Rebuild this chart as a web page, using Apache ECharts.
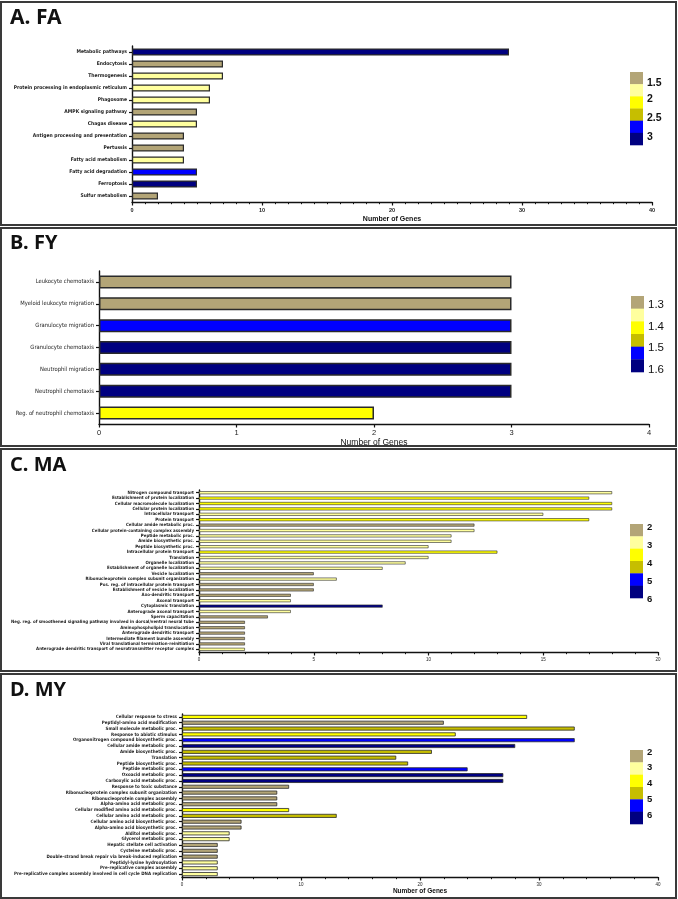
<!DOCTYPE html>
<html><head><meta charset="utf-8">
<script src="https://cdn.jsdelivr.net/npm/echarts@6/dist/echarts.min.js"></script>
<style>html,body{margin:0;padding:0;background:#fff}#c{width:678px;height:899px}</style>
</head><body><div id="c"></div><script>
// colour scale (lowest -> highest)
const palette = ['#B3A577','#FFFF9E','#FFFF00','#C6BE00','#0000FF','#000080'];

// A. FA
const faCategories = ['Metabolic pathways','Endocytosis','Thermogenesis','Protein processing in endoplasmic reticulum','Phagosome','AMPK signaling pathway','Chagas disease','Antigen processing and presentation','Pertussis','Fatty acid metabolism','Fatty acid degradation','Ferroptosis','Sulfur metabolism'];
const faValues = [29,7,7,6,6,5,5,4,4,4,5,5,2];
const faLevels = [5,0,1,1,1,0,1,0,0,1,4,5,0];
const faLegendLabels = ['1.5','2','2.5','3'];

// B. FY
const fyCategories = ['Leukocyte chemotaxis','Myeloid leukocyte migration','Granulocyte migration','Granulocyte chemotaxis','Neutrophil migration','Neutrophil chemotaxis','Reg. of neutrophil chemotaxis'];
const fyValues = [3,3,3,3,3,3,2];
const fyLevels = [0,0,4,5,5,5,2];
const fyLegendLabels = ['1.3','1.4','1.5','1.6'];

// C. MA
const maCategories = ['Nitrogen compound transport','Establishment of protein localization','Cellular macromolecule localization','Cellular protein localization','Intracellular transport','Protein transport','Cellular amide metabolic proc.','Cellular protein-containing complex assembly','Peptide metabolic proc.','Amide biosynthetic proc.','Peptide biosynthetic proc.','Intracellular protein transport','Translation','Organelle localization','Establishment of organelle localization','Vesicle localization','Ribonucleoprotein complex subunit organization','Pos. reg. of intracellular protein transport','Establishment of vesicle localization','Axo-dendritic transport','Axonal transport','Cytoplasmic translation','Anterograde axonal transport','Sperm capacitation','Neg. reg. of smoothened signaling pathway involved in dorsal/ventral neural tube','Aminophospholipid translocation','Anterograde dendritic transport','Intermediate filament bundle assembly','Viral translational termination-reinitiation','Anterograde dendritic transport of neurotransmitter receptor complex'];
const maValues = [18,17,18,18,15,17,12,12,11,11,10,13,10,9,8,5,6,5,5,4,4,8,4,3,2,2,2,2,2,2];
const maLevels = [1,2,2,2,1,2,0,1,1,1,1,2,1,1,1,0,1,0,0,0,1,5,1,0,0,0,0,0,0,1];
const maLegendLabels = ['2','3','4','5','6'];

// D. MY
const myCategories = ['Cellular response to stress','Peptidyl-amino acid modification','Small molecule metabolic proc.','Response to abiotic stimulus','Organonitrogen compound biosynthetic proc.','Cellular amide metabolic proc.','Amide biosynthetic proc.','Translation','Peptide biosynthetic proc.','Peptide metabolic proc.','Oxoacid metabolic proc.','Carboxylic acid metabolic proc.','Response to toxic substance','Ribonucleoprotein complex subunit organization','Ribonucleoprotein complex assembly','Alpha-amino acid metabolic proc.','Cellular modified amino acid metabolic proc.','Cellular amino acid metabolic proc.','Cellular amino acid biosynthetic proc.','Alpha-amino acid biosynthetic proc.','Alditol metabolic proc.','Glycerol metabolic proc.','Hepatic stellate cell activation','Cysteine metabolic proc.','Double-strand break repair via break-induced replication','Peptidyl-lysine hydroxylation','Pre-replicative complex assembly','Pre-replicative complex assembly involved in cell cycle DNA replication'];
const myValues = [29,22,33,23,33,28,21,18,19,24,27,27,9,8,8,8,9,13,5,5,4,4,3,3,3,3,3,3];
const myLevels = [2,0,3,2,4,5,3,3,3,4,5,5,0,0,0,0,2,3,0,0,1,1,0,0,0,1,1,1];
const myLegendLabels = ['2','3','4','5','6'];

const axisTitle = 'Number of Genes';

const panels = [
  {title:'A. FA', cats:faCategories, vals:faValues, lv:faLevels, leg:faLegendLabels,
   frame:[1,2,675,223], titlePos:[10,8], titleSize:21,
   grid:{left:132,top:46,width:520,height:156}, max:40, interval:10, minor:10,
   barW:7, border:1.2, lblSize:5.0, lblWeight:'bold', tickSize:5.5, tickWeight:'bold', tickMargin:5,
   name:axisTitle, nameSize:7, nameGap:14, nameWeight:'bold',
   legRect:[630,72,13,73], legLblY:[83,99,118,137], legLblSize:10.5, legLblWeight:'bold'},
  {title:'B. FY', cats:fyCategories, vals:fyValues, lv:fyLevels, leg:fyLegendLabels,
   frame:[1,228,675,218], titlePos:[10,233], titleSize:20,
   grid:{left:99,top:271,width:550,height:153}, max:4, interval:1, minor:0,
   barW:13, border:1.5, lblSize:5.8, lblWeight:'normal', tickSize:7.5, tickWeight:'normal', tickMargin:5,
   name:axisTitle, nameSize:8.5, nameGap:14, nameWeight:'normal',
   legRect:[631,296,13,76], legLblY:[305,327,348,370], legLblSize:11.5, legLblWeight:'normal'},
  {title:'C. MA', cats:maCategories, vals:maValues, lv:maLevels, leg:maLegendLabels,
   frame:[1,449,675,222], titlePos:[10,455], titleSize:20,
   grid:{left:199,top:490,width:459,height:162}, max:20, interval:5, minor:5,
   barW:3, border:0.6, lblSize:4.4, lblWeight:'bold', tickSize:4.5, tickWeight:'normal', tickMargin:5,
   name:'', nameSize:6, nameGap:12, nameWeight:'bold',
   legRect:[630,524,13,74], legLblY:[527,545,563,581,599], legLblSize:9.5, legLblWeight:'bold'},
  {title:'D. MY', cats:myCategories, vals:myValues, lv:myLevels, leg:myLegendLabels,
   frame:[1,674,675,224], titlePos:[10,680], titleSize:20,
   grid:{left:182,top:714,width:476,height:163}, max:40, interval:10, minor:5,
   barW:4, border:0.8, lblSize:4.5, lblWeight:'bold', tickSize:4.5, tickWeight:'normal', tickMargin:5,
   name:axisTitle, nameSize:6.5, nameGap:11, nameWeight:'bold',
   legRect:[630,750,13,74], legLblY:[752,767,783,799,815], legLblSize:9.5, legLblWeight:'bold'}
];

const grids=[], xAxes=[], yAxes=[], series=[], graphic=[];
const lab = '"Liberation Sans Narrow", "DejaVu Sans Condensed", "Liberation Sans", Arial, sans-serif';
const sans = '"Liberation Sans", Arial, sans-serif';
panels.forEach((p,i)=>{
  grids.push(Object.assign({containLabel:false, outerBoundsMode:'none'}, p.grid));
  xAxes.push({type:'value', gridIndex:i, min:0, max:p.max, interval:p.interval,
    axisLine:{show:true,lineStyle:{color:'#111',width:1.4}},
    axisTick:{show:true,length:3.5,lineStyle:{color:'#111',width:1.2}},
    minorTick:{show:p.minor>0,splitNumber:p.minor||5,length:2.2,lineStyle:{color:'#111',width:1}},
    splitLine:{show:false},
    axisLabel:{fontFamily:sans,fontSize:p.tickSize,fontWeight:p.tickWeight,color:'#222',margin:p.tickMargin},
    name:p.name, nameLocation:'middle', nameGap:p.nameGap,
    nameTextStyle:{fontFamily:sans,fontSize:p.nameSize,fontWeight:p.nameWeight,color:'#111'}});
  yAxes.push({type:'category', gridIndex:i, data:p.cats, inverse:true,
    axisLine:{show:true,lineStyle:{color:'#111',width:1.4}},
    axisTick:{show:true,alignWithLabel:true,length:3,lineStyle:{color:'#111',width:1.2}},
    axisLabel:{fontFamily:lab,fontSize:p.lblSize,fontWeight:p.lblWeight,color:'#222',margin:5,interval:0}});
  series.push({type:'bar', xAxisIndex:i, yAxisIndex:i, barWidth:p.barW, animation:false,
    data:p.vals.map((v,k)=>({value:v,itemStyle:{color:palette[p.lv[k]],borderColor:'#2a2a2a',borderWidth:p.border}}))});
  // frame
  graphic.push({type:'rect',shape:{x:p.frame[0],y:p.frame[1],width:p.frame[2],height:p.frame[3]},
    style:{fill:'none',stroke:'#3a3a3a',lineWidth:2},silent:true});
  // title
  graphic.push({type:'text',x:p.titlePos[0],y:p.titlePos[1],
    style:{text:p.title,font:'bold '+p.titleSize+'px "Noto Sans"',fill:'#111'}});
  // colour scale legend
  const [lx,ly,lw,lh]=p.legRect, sh=lh/palette.length;
  palette.forEach((c,k)=>graphic.push({type:'rect',shape:{x:lx,y:ly+k*sh,width:lw,height:sh+0.3},style:{fill:c},silent:true}));
  p.leg.forEach((t,k)=>graphic.push({type:'text',x:lx+lw+4,y:p.legLblY[k],
    style:{text:t,font:p.legLblWeight+' '+p.legLblSize+'px "Liberation Sans"',fill:'#111',verticalAlign:'middle'}}));
});

const chart = echarts.init(document.getElementById('c'),null,{renderer:'canvas'});
chart.setOption({animation:false, backgroundColor:'#fff', grid:grids, xAxis:xAxes, yAxis:yAxes, series:series, graphic:graphic});
</script></body></html>
